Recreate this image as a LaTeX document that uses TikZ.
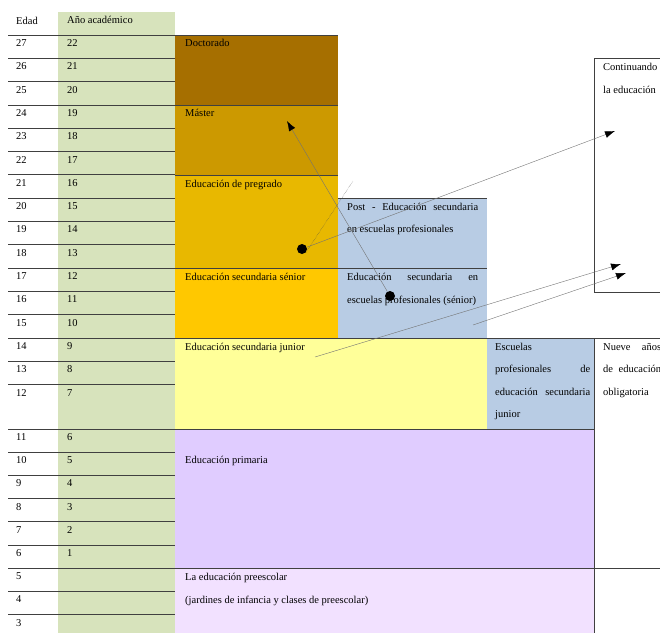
\documentclass[tikz,border=0pt]{standalone}
\usepackage{fontspec}
\setmainfont{Liberation Serif}
\usepackage{xcolor}
\usetikzlibrary{arrows.meta}
\definecolor{verdeAno}{RGB}{215,227,188}
\definecolor{colDoct}{RGB}{166,111,0}
\definecolor{colMast}{RGB}{204,153,0}
\definecolor{colPreg}{RGB}{232,184,0}
\definecolor{colSen}{RGB}{255,200,0}
\definecolor{colAzul}{RGB}{184,204,228}
\definecolor{colJun}{RGB}{255,255,153}
\definecolor{colPrim}{RGB}{224,204,255}
\definecolor{colPres}{RGB}{242,225,255}
\newcommand{\altoFila}{23.31}

\begin{document}
\begin{tikzpicture}[x=1pt,y=-1pt,font=\fontsize{10.5}{22.5}\selectfont,
        linea/.style={line width=0.8pt,black!75},
        texto/.style={anchor=base west,inner sep=0pt},
        caja/.style={texto,align=justify},
        flecha/.style={black!55,thin,-{Latex[length=10pt,width=7pt,black]}},
        punto/.style={circle,fill=black,inner sep=0pt,minimum size=10pt}]
        \useasboundingbox (0,0) rectangle (660,633);
        \clip (0,0) rectangle (660,633);
        \fill[verdeAno] (58,12) rectangle (175,633);
        \fill[colDoct] (175,35) rectangle (338,105);
        \fill[colMast] (175,105) rectangle (338,175);
        \fill[colPreg] (175,175) rectangle (338,268);
        \fill[colSen] (175,268) rectangle (338,338);
        \fill[colAzul] (338,198) rectangle (487,338);
        \fill[colJun] (175,338) rectangle (487,429);
        \fill[colAzul] (487,338) rectangle (594,429);
        \fill[colPrim] (175,429) rectangle (594,568);
        \fill[colPres] (175,568) rectangle (594,633);
        \foreach \k in {1,...,15} \draw[linea] (8,{35+\altoFila*\k}) -- (175,{35+\altoFila*\k});
        \foreach \k in {1,...,8} \draw[linea] (8,{429+23.2*\k}) -- (175,{429+23.2*\k});
        \draw[linea] (8,35) -- (338,35);
        \draw[linea] (175,105) -- (338,105);
        \draw[linea] (175,175) -- (338,175);
        \draw[linea] (338,198) -- (487,198);
        \draw[linea] (175,268) -- (487,268);
        \draw[linea] (8,338) -- (660,338);
        \draw[linea] (8,429) -- (594,429);
        \draw[linea] (8,568) -- (660,568);
        \draw[linea] (594,338) -- (594,633);
        \draw[linea] (670,58) -- (594,58) -- (594,292) -- (670,292);
        \node[texto] (hEdad) at (16,24) {Edad};
        \node[texto] (hAno) at (67,23) {Año académico};
        \foreach \e in {27,26,...,12} {
            \pgfmathsetmacro\yy{35+\altoFila*(27-\e)+11.5}
            \pgfmathtruncatemacro\ano{\e-5}
            \node[texto] (e\e) at (16,\yy) {\e};
            \node[texto] (a\e) at (67,\yy) {\ano};
        }
        \foreach \e in {11,10,...,3} {
            \pgfmathsetmacro\yy{429+23.2*(11-\e)+11.5}
            \node[texto] (e\e) at (16,\yy) {\e};
            \ifnum\e>5 \pgfmathtruncatemacro\ano{\e-5}\node[texto] (a\e) at (67,\yy) {\ano};\fi
        }
        \node[texto] (doct) at (185,46.5) {Doctorado};
        \node[texto] (mast) at (185,116.5) {Máster};
        \node[texto] (preg) at (185,187.5) {Educación de pregrado};
        \node[caja,text width=131pt] (post) at (347,210) {Post - Educación secundaria\linebreak en escuelas profesionales};
        \node[texto] (sen) at (185,280.5) {Educación secundaria sénior};
        \node[caja,text width=131pt] (escSen) at (347,280.5) {Educación secundaria en\linebreak escuelas profesionales (sénior)};
        \node[texto] (jun) at (185,350) {Educación secundaria junior};
        \node[caja,text width=95pt] (escJun) at (495,350) {Escuelas\newline profesionales de\linebreak educación secundaria\linebreak junior};
        \node[caja,text width=58pt] (nueve) at (603,350) {Nueve años\linebreak de educación\linebreak obligatoria};
        \node[texto] (prim) at (185,463) {Educación primaria};
        \node[caja,text width=300pt] (pres) at (185,580.5) {La educación preescolar\newline (jardines de infancia y clases de preescolar)};
        \node[caja,text width=56pt] (cont) at (603,70.5) {Continuando\newline la educación};
        \node[punto] (p1) at (302,249) {};
        \node[punto] (p2) at (390,296) {};
        \coordinate (m) at (287,121);
        \coordinate (c1) at (615,131);
        \coordinate (c2) at (621,264);
        \coordinate (c3) at (626,273);
        \coordinate (j) at (315,357);
        \coordinate (s) at (473,325);
        \coordinate (d) at (353,181);
        \draw[flecha] (p2) -- (m);
        \draw[flecha] (p1) -- (c1);
        \draw[black!70,densely dotted] (p1.-40) -- (d);
        \draw[flecha] (j) -- (c2);
        \draw[flecha] (s) -- (c3);
    \end{tikzpicture}
\end{document}
